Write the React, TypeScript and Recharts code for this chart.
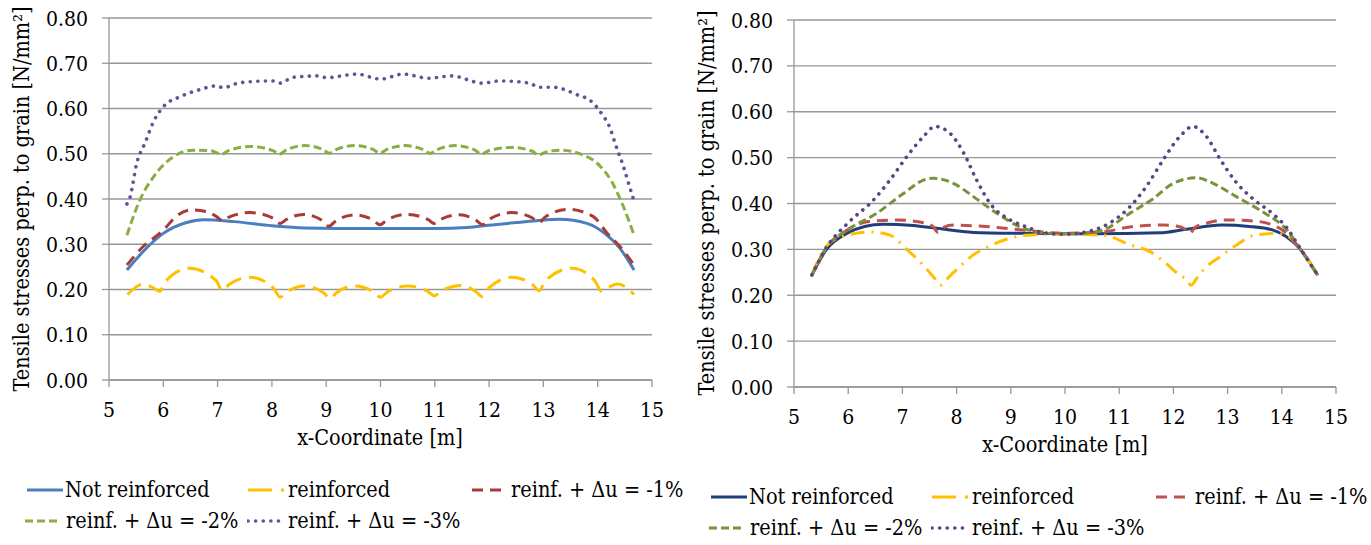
import React from "react";
import { LineChart, Line, XAxis, YAxis, CartesianGrid } from "recharts";

// Tensile stress perpendicular to grain along the beam: [x-coordinate in m, stress in N/mm²]

// --- left chart ---
const notReinforcedA = [
  [5.33, 0.243], [5.63, 0.284], [6.0, 0.324], [6.43, 0.348], [6.74, 0.354], [7.3, 0.35],
  [8.0, 0.341], [8.6, 0.336], [9.2, 0.335], [10.0, 0.335], [11.0, 0.335], [11.6, 0.337],
  [12.0, 0.342], [12.5, 0.348], [12.87, 0.352], [13.3, 0.355], [13.8, 0.346], [14.17, 0.32],
  [14.41, 0.291], [14.67, 0.243],
];
const reinforcedA = [
  [5.34, 0.189], [5.63, 0.212], [5.81, 0.204], [5.93, 0.196], [6.05, 0.219], [6.48, 0.247],
  [6.97, 0.22], [7.09, 0.197], [7.21, 0.211], [7.6, 0.227], [8.03, 0.203], [8.15, 0.183],
  [8.27, 0.194], [8.58, 0.208], [8.95, 0.193], [9.07, 0.18], [9.19, 0.193], [9.53, 0.208],
  [9.88, 0.194], [10.0, 0.183], [10.12, 0.194], [10.5, 0.208], [10.87, 0.196], [10.99, 0.186],
  [11.11, 0.196], [11.47, 0.209], [11.76, 0.195], [11.88, 0.184], [12.0, 0.204], [12.42, 0.227],
  [12.8, 0.211], [12.92, 0.197], [13.04, 0.22], [13.53, 0.247], [13.95, 0.219], [14.07, 0.196],
  [14.19, 0.204], [14.37, 0.212], [14.67, 0.189],
];
const du1A = [
  [5.33, 0.254], [5.63, 0.295], [6.0, 0.331], [6.24, 0.362], [6.52, 0.376], [6.8, 0.372],
  [6.97, 0.362], [7.09, 0.352], [7.21, 0.36], [7.6, 0.37], [8.03, 0.357], [8.15, 0.346],
  [8.27, 0.355], [8.58, 0.366], [8.93, 0.352], [9.05, 0.34], [9.17, 0.351], [9.53, 0.365],
  [9.87, 0.353], [9.99, 0.343], [10.11, 0.353], [10.48, 0.366], [10.87, 0.355], [10.99, 0.346],
  [11.11, 0.355], [11.45, 0.365], [11.76, 0.353], [11.88, 0.343], [12.0, 0.355], [12.42, 0.37],
  [12.8, 0.358], [12.92, 0.348], [13.04, 0.361], [13.46, 0.377], [13.92, 0.361], [14.17, 0.325],
  [14.41, 0.295], [14.67, 0.254],
];
const du2A = [
  [5.33, 0.32], [5.57, 0.398], [5.82, 0.449], [6.18, 0.493], [6.55, 0.508], [6.86, 0.507],
  [7.08, 0.499], [7.2, 0.507], [7.6, 0.516], [8.02, 0.507], [8.14, 0.499], [8.26, 0.508],
  [8.61, 0.518], [8.94, 0.509], [9.06, 0.501], [9.18, 0.509], [9.53, 0.518], [9.87, 0.509],
  [9.99, 0.501], [10.11, 0.509], [10.45, 0.518], [10.79, 0.509], [10.92, 0.501], [11.04, 0.509],
  [11.38, 0.518], [11.74, 0.508], [11.86, 0.499], [11.98, 0.506], [12.41, 0.514], [12.79, 0.506],
  [12.91, 0.497], [13.03, 0.503], [13.31, 0.508], [13.74, 0.497], [14.05, 0.472], [14.25, 0.44],
  [14.45, 0.39], [14.67, 0.32],
];
const du3A = [
  [5.33, 0.389], [5.39, 0.405], [5.51, 0.479], [5.66, 0.523], [5.82, 0.571], [6.0, 0.604],
  [6.31, 0.626], [6.68, 0.642], [6.98, 0.65], [7.1, 0.646], [7.41, 0.657], [8.0, 0.661],
  [8.15, 0.656], [8.39, 0.669], [8.85, 0.672], [9.01, 0.668], [9.38, 0.674], [9.56, 0.676],
  [10.0, 0.665], [10.42, 0.676], [10.88, 0.667], [11.31, 0.672], [11.88, 0.656], [12.2, 0.661],
  [12.75, 0.656], [12.91, 0.647], [13.18, 0.647], [13.61, 0.631], [13.89, 0.615], [14.07, 0.589],
  [14.23, 0.556], [14.32, 0.523], [14.47, 0.473], [14.56, 0.438], [14.67, 0.395],
];

// --- right chart ---
const notReinforcedB = [
  [5.33, 0.244], [5.6, 0.3], [5.98, 0.335], [6.3, 0.35], [6.65, 0.355], [7.2, 0.352],
  [7.63, 0.346], [8.31, 0.337], [9.2, 0.335], [10.5, 0.334], [11.75, 0.336], [12.24, 0.344],
  [12.89, 0.353], [13.4, 0.35], [13.84, 0.342], [14.08, 0.328], [14.33, 0.302], [14.66, 0.244],
];
const reinforcedB = [
  [5.33, 0.244], [5.61, 0.309], [5.98, 0.331], [6.41, 0.338], [6.77, 0.331], [7.08, 0.3],
  [7.39, 0.265], [7.6, 0.236], [7.7, 0.222], [7.8, 0.233], [8.0, 0.256], [8.31, 0.288],
  [8.62, 0.308], [8.92, 0.322], [9.29, 0.331], [10.0, 0.333], [10.7, 0.331], [11.2, 0.31],
  [11.57, 0.295], [11.87, 0.269], [12.1, 0.245], [12.23, 0.235], [12.33, 0.222], [12.43, 0.237],
  [12.55, 0.255], [12.86, 0.284], [13.16, 0.309], [13.47, 0.33], [13.9, 0.335], [14.1, 0.33],
  [14.33, 0.302], [14.66, 0.244],
];
const du1B = [
  [5.33, 0.244], [5.61, 0.305], [5.98, 0.342], [6.35, 0.36], [6.9, 0.364], [7.39, 0.358],
  [7.56, 0.35], [7.66, 0.337], [7.76, 0.348], [7.94, 0.353], [8.62, 0.349], [9.23, 0.342],
  [10.0, 0.335], [10.7, 0.338], [11.2, 0.349], [11.81, 0.353], [12.1, 0.35], [12.2, 0.345],
  [12.3, 0.335], [12.4, 0.348], [12.61, 0.357], [12.98, 0.364], [13.47, 0.362], [13.96, 0.346],
  [14.1, 0.334], [14.33, 0.302], [14.66, 0.244],
];
const du2B = [
  [5.33, 0.244], [5.61, 0.306], [5.98, 0.342], [6.53, 0.379], [7.02, 0.422], [7.39, 0.451],
  [7.57, 0.455], [7.94, 0.444], [8.31, 0.415], [8.74, 0.379], [9.17, 0.349], [9.6, 0.336],
  [10.0, 0.334], [10.4, 0.336], [10.7, 0.342], [11.2, 0.379], [11.62, 0.41], [12.0, 0.444],
  [12.42, 0.456], [12.73, 0.444], [13.16, 0.415], [13.59, 0.386], [13.96, 0.357], [14.1, 0.342],
  [14.33, 0.303], [14.66, 0.244],
];
const du3B = [
  [5.33, 0.244], [5.61, 0.306], [6.0, 0.358], [6.47, 0.408], [6.77, 0.451], [7.08, 0.502],
  [7.39, 0.546], [7.6, 0.568], [7.88, 0.553], [8.13, 0.51], [8.37, 0.451], [8.62, 0.4],
  [8.99, 0.364], [9.29, 0.349], [9.54, 0.338], [9.97, 0.333], [10.46, 0.34], [10.83, 0.358],
  [11.2, 0.393], [11.5, 0.437], [11.81, 0.495], [12.12, 0.546], [12.36, 0.568], [12.61, 0.546],
  [12.86, 0.497], [13.16, 0.446], [13.47, 0.41], [13.84, 0.377], [14.08, 0.349], [14.33, 0.304],
  [14.66, 0.244],
];

const seriesNames = [
  "Not reinforced",
  "reinforced",
  "reinf. + \u0394u = -1%",
  "reinf. + \u0394u = -2%",
  "reinf. + \u0394u = -3%",
];
const xTicks = [5, 6, 7, 8, 9, 10, 11, 12, 13, 14, 15];
const yTicks = [0, 0.1, 0.2, 0.3, 0.4, 0.5, 0.6, 0.7, 0.8];
const xTitle = "x-Coordinate [m]";
const yTitle = "Tensile stresses perp. to grain [N/mm\u00b2]";

const FACE = '"DejaVu Serif Condensed", "DejaVu Serif", serif';
const TICK_SIZE = 21;
const TEXT_SIZE = 21.5;
const GRID = "#979797";

type Style = { color: string; dash?: string; keyDash?: string; width: number; cap?: "round" | "butt" };

const stylesA: Style[] = [
  { color: "#4a7ebf", width: 3 },
  { color: "#ffc000", dash: "17 8", keyDash: "24 9 3 9", width: 3 },
  { color: "#a93a36", dash: "11 7", width: 3 },
  { color: "#8aae44", dash: "8 4", width: 3 },
  { color: "#6b4f96", dash: "0.1 7.5", width: 3.6, cap: "round" },
];
const stylesB: Style[] = [
  { color: "#1f3f7a", width: 3 },
  { color: "#ffc000", dash: "14 7 2 7", keyDash: "24 9 3 9", width: 3 },
  { color: "#c0504d", dash: "11 7", width: 3 },
  { color: "#77933c", dash: "8 4", width: 3 },
  { color: "#5a4486", dash: "0.1 7.5", width: 3.6, cap: "round" },
];

const toPoints = (rows: number[][]) => rows.map(([x, y]) => ({ x, y }));

const XTick = (props: any) => (
  <text x={props.x} y={props.y} dy={30} textAnchor="middle" fill="#000" fontFamily={FACE} fontSize={TICK_SIZE}>
    {props.payload.value}
  </text>
);

const YTick = (props: any) => (
  <text x={props.x} y={props.y} dy={7.5} textAnchor="end" fill="#000" fontFamily={FACE} fontSize={TICK_SIZE}>
    {Number(props.payload.value).toFixed(2)}
  </text>
);

type ChartProps = {
  data: number[][][];
  styles: Style[];
  width: number;
  height: number;
  margin: { top: number; right: number; bottom: number; left: number };
};

function StressChart({ data, styles, width, height, margin }: ChartProps) {
  return (
    <LineChart width={width} height={height} margin={margin}>
      <CartesianGrid horizontal vertical={false} stroke={GRID} strokeWidth={1.3} />
      <XAxis
        dataKey="x"
        type="number"
        domain={[5, 15]}
        ticks={xTicks}
        height={80}
        tickSize={7}
        tickMargin={0}
        stroke={GRID}
        strokeWidth={1.3}
        tick={<XTick />}
      />
      <YAxis
        type="number"
        domain={[0, 0.8]}
        ticks={yTicks}
        width={109}
        tickSize={7}
        tickMargin={14}
        stroke={GRID}
        strokeWidth={1.3}
        tick={<YTick />}
      />
      {data.map((rows, i) => (
        <Line
          key={seriesNames[i]}
          name={seriesNames[i]}
          data={toPoints(rows)}
          dataKey="y"
          type="monotone"
          stroke={styles[i].color}
          strokeWidth={styles[i].width}
          strokeDasharray={styles[i].dash}
          strokeLinecap={styles[i].cap ?? "butt"}
          dot={false}
          activeDot={false}
          isAnimationActive={false}
        />
      ))}
    </LineChart>
  );
}

const htmlText: React.CSSProperties = {
  position: "absolute",
  fontFamily: FACE,
  fontSize: TEXT_SIZE,
  lineHeight: "24px",
  whiteSpace: "nowrap",
  color: "#000",
};

// centred caption; `base` is the text baseline
function Caption({ x, base, text }: { x: number; base: number; text: string }) {
  return (
    <div style={{ ...htmlText, left: x, top: base - 20, transform: "translateX(-50%)" }}>{text}</div>
  );
}

// rotated axis caption centred on (x, y)
function SideCaption({ x, y, text }: { x: number; y: number; text: string }) {
  return (
    <div style={{ ...htmlText, left: x, top: y, transform: "translate(-50%, -50%) rotate(-90deg)" }}>
      {text}
    </div>
  );
}

type Slot = { sx: number; sw: number; tx: number; y: number };

// legend keys: short line sample plus series name
function LegendKeys({ styles, slots }: { styles: Style[]; slots: Slot[] }) {
  return (
    <>
      {slots.map((s, i) => (
        <React.Fragment key={i}>
          <svg width={s.sw + 2} height={10} style={{ position: "absolute", left: s.sx - 1, top: s.y - 5 }}>
            <line
              x1={1}
              y1={5}
              x2={s.sw + 1}
              y2={5}
              stroke={styles[i].color}
              strokeWidth={styles[i].width}
              strokeDasharray={styles[i].keyDash ?? styles[i].dash}
              strokeLinecap={styles[i].cap ?? "butt"}
            />
          </svg>
          <div style={{ ...htmlText, left: s.tx, top: s.y - 12 }}>{seriesNames[i]}</div>
        </React.Fragment>
      ))}
    </>
  );
}

const slotsA: Slot[] = [
  { sx: 27, sw: 36, tx: 65, y: 490 },
  { sx: 248, sw: 38, tx: 288, y: 490 },
  { sx: 472, sw: 31, tx: 511, y: 490 },
  { sx: 25, sw: 33, tx: 66, y: 521 },
  { sx: 248, sw: 38, tx: 288, y: 521 },
];
const slotsB: Slot[] = [
  { sx: 711, sw: 36, tx: 749, y: 497 },
  { sx: 932, sw: 38, tx: 972, y: 497 },
  { sx: 1156, sw: 31, tx: 1195, y: 497 },
  { sx: 709, sw: 33, tx: 750, y: 528 },
  { sx: 932, sw: 38, tx: 972, y: 528 },
];

export default function App() {
  return (
    <div style={{ position: "absolute", left: 0, top: 0, width: 1371, height: 545, background: "#fff" }}>
      <div style={{ position: "absolute", left: 0, top: 0 }}>
        <StressChart
          data={[notReinforcedA, reinforcedA, du1A, du2A, du3A]}
          styles={stylesA}
          width={685}
          height={460}
          margin={{ top: 18, right: 33, bottom: 0, left: 0 }}
        />
      </div>
      <div style={{ position: "absolute", left: 685, top: 0 }}>
        <StressChart
          data={[notReinforcedB, reinforcedB, du1B, du2B, du3B]}
          styles={stylesB}
          width={686}
          height={467}
          margin={{ top: 20, right: 35, bottom: 0, left: 0 }}
        />
      </div>
      <SideCaption x={22} y={199} text={yTitle} />
      <SideCaption x={707} y={203} text={yTitle} />
      <Caption x={380} base={446} text={xTitle} />
      <Caption x={1065} base={453} text={xTitle} />
      <LegendKeys styles={stylesA} slots={slotsA} />
      <LegendKeys styles={stylesB} slots={slotsB} />
    </div>
  );
}
